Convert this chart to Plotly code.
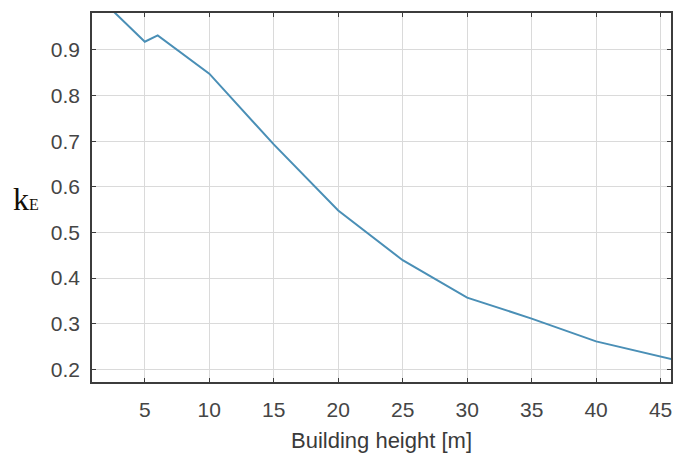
import plotly.graph_objects as go

# Reduction factor k_E against building height
height_m = [2, 5, 6, 10, 15, 20, 25, 30, 35, 40, 46]
k_e = [1.0, 0.918, 0.932, 0.848, 0.693, 0.548, 0.439, 0.357, 0.311, 0.261, 0.221]

x_ticks = [5, 10, 15, 20, 25, 30, 35, 40, 45]
y_ticks = [0.2, 0.3, 0.4, 0.5, 0.6, 0.7, 0.8, 0.9]

W, H = 673, 455
M_L, M_R, M_T, M_B = 92, 0, 13, 73

fig = go.Figure(
    go.Scatter(
        x=height_m, y=k_e, mode="lines",
        line=dict(color="#4a8fb6", width=2),
        hoverinfo="skip",
    )
)

axis_common = dict(
    showline=True, linecolor="#3c3c3c", linewidth=1.6, mirror="ticks",
    ticks="inside", ticklen=4, tickwidth=1.3, tickcolor="#3c3c3c",
    showgrid=True, gridcolor="#dadada", gridwidth=1,
    zeroline=False,
    tickfont=dict(family="Liberation Sans, Arial, sans-serif", size=21, color="#454545"),
)

fig.update_xaxes(
    range=[0.904, 45.81], tickvals=x_ticks, ticktext=[str(v) for v in x_ticks],
    ticklabelstandoff=8,
    title=dict(text="Building height [m]", standoff=13,
               font=dict(family="Liberation Sans, Arial, sans-serif", size=22, color="#3a3a3a")),
    **axis_common,
)
fig.update_yaxes(
    range=[0.172, 0.981], tickvals=y_ticks, ticktext=[f"{v:.1f}" for v in y_ticks],
    ticklabelstandoff=6,
    **axis_common,
)

fig.add_annotation(
    xref="paper", yref="paper",
    x=-(M_L - 11) / (W - M_L - M_R), y=(H - M_B - 199) / (H - M_T - M_B),
    xanchor="left", yanchor="middle", showarrow=False,
    text="k<span style='font-size:16px'>E</span>",
    font=dict(family="Liberation Serif, Times New Roman, serif", size=32, color="#140e06"),
)

fig.update_layout(
    width=W, height=H,
    margin=dict(l=M_L, r=M_R, t=M_T, b=M_B, pad=0),
    paper_bgcolor="white", plot_bgcolor="white",
    showlegend=False,
)

fig.write_html("out.html", config={"displayModeBar": False})
